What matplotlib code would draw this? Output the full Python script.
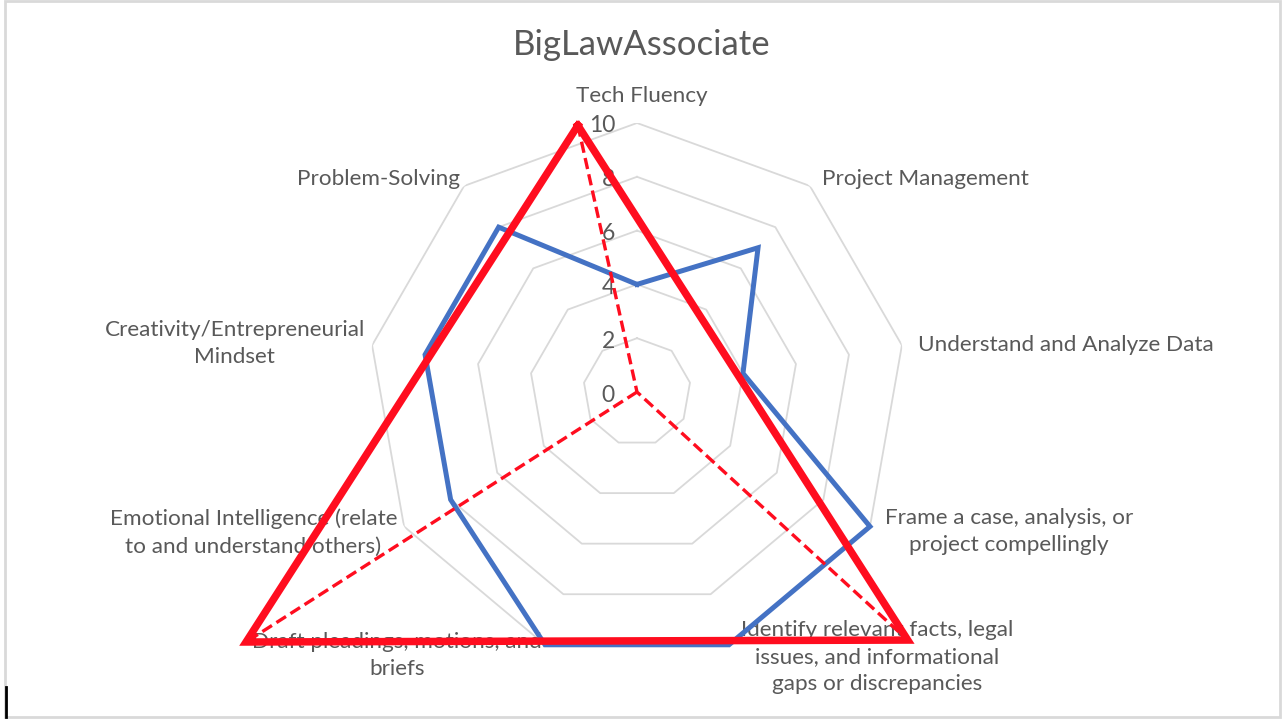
import numpy as np
import matplotlib
matplotlib.use("Agg")
import matplotlib.pyplot as plt
from matplotlib.lines import Line2D
from matplotlib.patches import Rectangle

# ---------------- data ----------------
title = "BigLawAssociate"
categories = [
    "Tech Fluency",
    "Project Management",
    "Understand and Analyze Data",
    "Frame a case, analysis, or\nproject compellingly",
    "Identify relevant facts, legal\nissues, and informational\ngaps or discrepancies",
    "Draft pleadings, motions, and\nbriefs",
    "Emotional Intelligence (relate\nto and understand others)",
    "Creativity/Entrepreneurial\nMindset",
    "Problem-Solving",
]
associate_scores = [4, 7, 4, 10, 10, 10, 8, 8, 8]
radial_ticks = [0, 2, 4, 6, 8, 10]

# hand-drawn red overlay shape (compass angle in degrees, radius in data units)
overlay_angles_deg = [-12.5, 132.5, 237.4]
overlay_radii = [10.15, 13.65, 17.25]

# ---------------- style ----------------
FONT = ["Lato", "DejaVu Sans"]
TXT = "#595959"
GRID = "#D9D9D9"
BLUE = "#4472C4"
RED = "#FF0D1F"

W, H = 1282, 722
fig = plt.figure(figsize=(W / 100, H / 100), dpi=100)
fig.patch.set_facecolor("white")

cx, cy, R = 637, 722 - 392, 269
ax = fig.add_axes([(cx - R) / W, (cy - R) / H, 2 * R / W, 2 * R / H], projection="polar")
ax.set_theta_offset(np.pi / 2)
ax.set_theta_direction(-1)
ax.set_ylim(0, 10)
ax.grid(False)
ax.set_xticks([])
ax.set_yticks([])
ax.spines["polar"].set_visible(False)
ax.patch.set_alpha(0)

n = len(categories)
angles = np.arange(n) * 2 * np.pi / n
closed = np.append(angles, angles[0])

# polygon grid rings
for r in radial_ticks[1:]:
    ax.plot(closed, [r] * (n + 1), color=GRID, lw=1.3, zorder=1)

# radial tick labels
for r in radial_ticks:
    ax.annotate(str(r), xy=(0, r), xytext=(-22, -3), textcoords="offset pixels",
                ha="right", va="center", fontsize=16.5, color=TXT, family=FONT, zorder=2)

# category labels
label_offsets = [
    (5, 27, "center"),
    (12, 7, "left"),
    (16, 0, "left"),
    (15, -5, "left"),
    (148, -12, "center"),
    (-148, -11, "center"),
    (-7, -6, "right"),
    (-7, 2, "right"),
    (-4, 7, "right"),
]
for ang, lab, (dx, dy, ha) in zip(angles, categories, label_offsets):
    ax.annotate(lab, xy=(ang, 10), xytext=(dx, dy), textcoords="offset pixels",
                ha=ha, va="center", multialignment="center", fontsize=16.2,
                color=TXT, family=FONT, zorder=2, annotation_clip=False,
                linespacing=1.45)

# data series
vals = np.append(associate_scores, associate_scores[0])
ax.plot(closed, vals, color=BLUE, lw=3.6, zorder=4, solid_joinstyle="miter", clip_on=False)

# red overlay triangle
ot = np.deg2rad(overlay_angles_deg)
ax.plot(np.append(ot, ot[0]), overlay_radii + [overlay_radii[0]], color=RED, lw=5.4,
        zorder=6, clip_on=False, solid_joinstyle="miter")
# dashed lines from the vertices to the centre
dash_t = [ot[0], 0, ot[1]]
dash_r = [overlay_radii[0], 0, overlay_radii[1]]
ax.plot(dash_t, dash_r, color=RED, lw=2.4, ls=(0, (3.4, 1.6)), zorder=5, clip_on=False)
ax.plot([0, ot[2]], [0, overlay_radii[2]], color=RED, lw=2.4, ls=(0, (3.4, 1.6)), zorder=5, clip_on=False)

# title
fig.text(642 / W, 1 - 45 / H, title, ha="center", va="center", fontsize=25,
         color=TXT, family=FONT)

# outer frame
fig.add_artist(Rectangle((5 / W, 5 / H), (W - 7) / W, (H - 6) / H, transform=fig.transFigure,
                         fill=False, edgecolor=GRID, lw=2))
fig.add_artist(Line2D([5.5 / W, 5.5 / W], [5 / H, 35 / H], transform=fig.transFigure,
                      color="black", lw=2))

fig.savefig("out.png", dpi=100)
